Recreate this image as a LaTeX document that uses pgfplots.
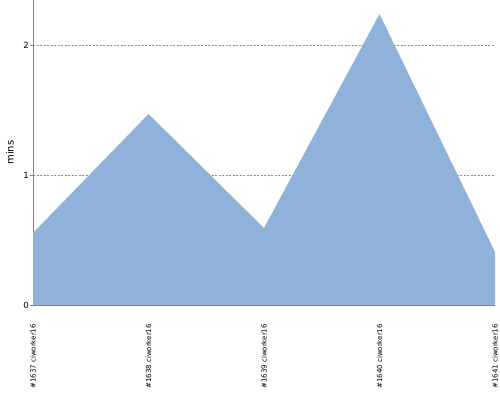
\documentclass[border=0pt]{standalone}
\usepackage{fontspec}
\setmainfont{DejaVu Sans}
\usepackage{pgfplots}
\pgfplotsset{compat=1.18}
\definecolor{areafill}{RGB}{143,178,219}
\definecolor{axisgray}{RGB}{128,128,128}
\definecolor{gridgray}{RGB}{140,140,140}
\begin{document}
\begin{tikzpicture}[x=1pt,y=1pt]
\path[use as bounding box] (0,0) rectangle (500,400);
\begin{axis}[
  at={(33pt,95pt)}, anchor=south west,
  scale only axis,
  width=462pt, height=305pt,
  xmin=0, xmax=4,
  ymin=0, ymax=2.346,
  axis x line*=bottom, axis y line*=left,
  axis line style={axisgray, line width=0.8pt, -},
  /pgf/number format/assume math mode=true,
  xtick={0,1,2,3,4},
  xticklabels={{\#1637 ciworker16},{\#1638 ciworker16},{\#1639 ciworker16},{\#1640 ciworker16},{\#1641 ciworker16}},
  xticklabel style={rotate=90, anchor=east, font=\fontsize{7}{8}\selectfont, inner sep=0pt},
  xticklabel shift=16pt,
  x tick style={draw=none},
  ytick={0,1,2},
  yticklabel style={font=\fontsize{8.5}{9}\selectfont, inner sep=1pt},
  y tick style={axisgray, line width=0.6pt},
  tick align=outside,
  major tick length=3pt,
  ymajorgrids,
  major grid style={gridgray, line width=0.6pt, dash pattern=on 2pt off 1.5pt},
  ylabel={mins},
  ylabel style={font=\fontsize{10}{11}\selectfont, at={(axis description cs:0,0.5)}, anchor=south, yshift=19pt, inner sep=0pt},
  clip=false,
]
\addplot[fill=areafill, draw=none] coordinates {
  (0,0.554) (1,1.469) (2,0.592) (3,2.238) (4,0.408)
} \closedcycle;
\end{axis}
\end{tikzpicture}
\end{document}
